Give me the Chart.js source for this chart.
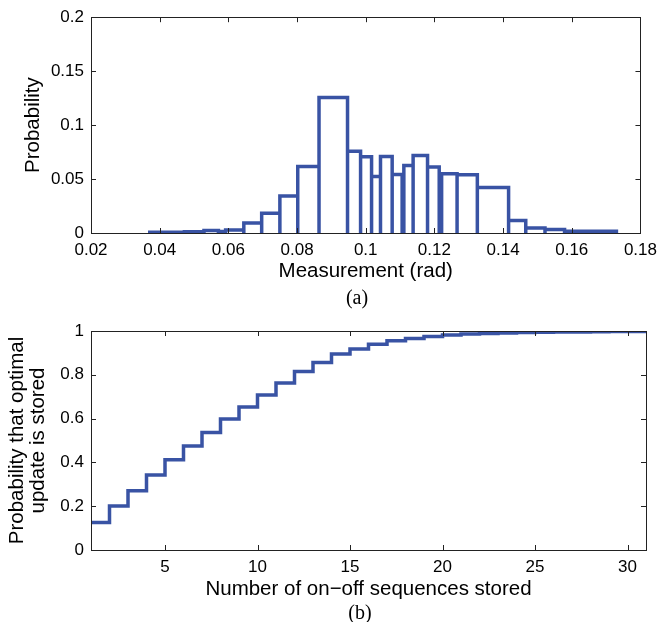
<!DOCTYPE html>
<html><head><meta charset="utf-8">
<script src="https://cdn.jsdelivr.net/npm/chart.js@4/dist/chart.umd.min.js"></script>
<style>
html,body{margin:0;padding:0;background:#fff;}
body{width:664px;height:622px;position:relative;overflow:hidden;}
#c1{position:absolute;left:0;top:0;}
#c2{position:absolute;left:0;top:300px;}
.cap{position:absolute;font-family:'Liberation Serif','Times New Roman',serif;font-size:20px;width:60px;text-align:center;line-height:22px;color:#000;}
</style></head><body>
<canvas id="c1" width="664" height="290"></canvas>
<canvas id="c2" width="664" height="310"></canvas>
<div class="cap" style="left:327px;top:286px">(a)</div>
<div class="cap" style="left:330px;top:601px">(b)</div>
<script>
// ---- Data: (a) histogram of measurements ----
const binEdges = [0.0371, 0.0472, 0.0529, 0.0571, 0.0592, 0.0645, 0.0697, 0.0750, 0.0802, 0.0864,
  0.0947, 0.0985, 0.1017, 0.1043, 0.1077, 0.1106, 0.1111, 0.1138, 0.1180, 0.1214,
  0.1221, 0.1266, 0.1325, 0.1416, 0.1466, 0.1522, 0.1579, 0.1730];
const binProb = [0.0006, 0.0012, 0.0024, 0.0015, 0.0027, 0.0092, 0.0183, 0.0342, 0.0617, 0.1256,
  0.0757, 0.0706, 0.0524, 0.0709, 0.0543, 0.0277, 0.0625, 0.0718, 0.0611, 0.0550,
  0.0550, 0.0541, 0.0422, 0.0117, 0.0047, 0.0032, 0.0016];
const topXTicks = [0.02, 0.04, 0.06, 0.08, 0.1, 0.12, 0.14, 0.16, 0.18];
const topYTicks = [0, 0.05, 0.1, 0.15, 0.2];

// ---- Data: (b) probability that optimal update is stored ----
const seqStored = [1,2,3,4,5,6,7,8,9,10,11,12,13,14,15,16,17,18,19,20,21,22,23,24,25,26,27,28,29,30,31];
const probStored = [0.126, 0.201, 0.271, 0.343, 0.412, 0.475, 0.537, 0.598, 0.653, 0.708,
  0.762, 0.815, 0.856, 0.895, 0.918, 0.939, 0.955, 0.966, 0.975, 0.982,
  0.986, 0.989, 0.991, 0.993, 0.994, 0.995, 0.996, 0.997, 0.998, 0.998, 0.999];
const botXTicks = [5, 10, 15, 20, 25, 30];
const botYTicks = [0, 0.2, 0.4, 0.6, 0.8, 1];

const BLUE = 'rgb(57,83,164)';
const FONT = "'Liberation Sans', Arial, Helvetica, sans-serif";
const fmt = v => String(+(+v).toFixed(4));

const boxPlugin = {
  id: 'box',
  afterDatasetsDraw(chart) {
    const {ctx, chartArea: a, scales} = chart;
    const L = 5;
    ctx.save();
    ctx.strokeStyle = '#222';
    ctx.lineWidth = 1;
    ctx.beginPath();
    scales.x.ticks.forEach(t => {
      const px = Math.round(scales.x.getPixelForValue(t.value)) + 0.5;
      ctx.moveTo(px, a.bottom); ctx.lineTo(px, a.bottom - L);
      ctx.moveTo(px, a.top); ctx.lineTo(px, a.top + L);
    });
    scales.y.ticks.forEach(t => {
      const py = Math.round(scales.y.getPixelForValue(t.value)) + 0.5;
      ctx.moveTo(a.left, py); ctx.lineTo(a.left + L, py);
      ctx.moveTo(a.right, py); ctx.lineTo(a.right - L, py);
    });
    ctx.stroke();
    ctx.strokeRect(Math.round(a.left) + 0.5, Math.round(a.top) + 0.5,
      Math.round(a.right - a.left), Math.round(a.bottom - a.top));
    ctx.restore();
  }
};

function makeScales(xMin, xMax, xTicks, yMin, yMax, yTicks, xTitle, yTitle, xH, xTitlePad, yTitleCfg) {
  return {
    x: {
      type: 'linear', min: xMin, max: xMax,
      afterBuildTicks: ax => { ax.ticks = xTicks.map(v => ({value: v})); },
      afterFit: ax => { ax.height = xH; },
      grid: {display: false, drawTicks: false},
      border: {display: false},
      ticks: {color: '#000', font: {family: FONT, size: 17}, padding: 7, maxRotation: 0, autoSkip: false, callback: fmt},
      title: {display: true, text: xTitle, color: '#000', font: {family: FONT, size: 20.5, lineHeight: 1.2}, padding: {top: 0, bottom: xTitlePad}}
    },
    y: {
      type: 'linear', min: yMin, max: yMax,
      afterBuildTicks: ax => { ax.ticks = yTicks.map(v => ({value: v})); },
      afterFit: ax => { ax.width = 91; },
      grid: {display: false, drawTicks: false},
      border: {display: false},
      ticks: {color: '#000', font: {family: FONT, size: 17}, padding: 7, autoSkip: false, callback: fmt},
      title: Object.assign({display: true, text: yTitle, color: '#000'}, yTitleCfg)
    }
  };
}

// Build histogram outline from bin edges/heights
const histPts = [];
binProb.forEach((h, i) => {
  const l = binEdges[i], r = binEdges[i + 1];
  histPts.push({x: l, y: 0}, {x: l, y: h}, {x: r, y: h}, {x: r, y: 0}, {x: r, y: null});
});

new Chart(document.getElementById('c1'), {
  type: 'line',
  data: {datasets: [{
    data: histPts, borderColor: BLUE, borderWidth: 3.5, pointRadius: 0, fill: false,
    tension: 0, spanGaps: false, borderJoinStyle: 'miter', borderCapStyle: 'butt'
  }]},
  options: {
    responsive: false, animation: false, devicePixelRatio: 1,
    layout: {padding: {top: 15, right: 18, bottom: 0, left: 0}},
    plugins: {legend: {display: false}, tooltip: {enabled: false}},
    scales: makeScales(0.02, 0.18, topXTicks, 0, 0.2, topYTicks, 'Measurement (rad)', 'Probability', 57, 6,
      {font: {family: FONT, size: 20.5, lineHeight: 1.2}, padding: {top: 21, bottom: 0}})
  },
  plugins: [boxPlugin]
});

new Chart(document.getElementById('c2'), {
  type: 'line',
  data: {datasets: [{
    data: seqStored.map((n, i) => ({x: n, y: probStored[i]})),
    borderColor: BLUE, borderWidth: 3.5, pointRadius: 0, fill: false,
    stepped: 'before', borderJoinStyle: 'miter', borderCapStyle: 'butt'
  }]},
  options: {
    responsive: false, animation: false, devicePixelRatio: 1,
    layout: {padding: {top: 31, right: 18, bottom: 0, left: 0}},
    plugins: {legend: {display: false}, tooltip: {enabled: false}},
    scales: makeScales(1, 31, botXTicks, 0, 1, botYTicks, 'Number of on\u2212off sequences stored',
      ['Probability that optimal', 'update is stored'], 60, 8,
      {font: {family: FONT, size: 20.5, lineHeight: 1.03}, padding: {top: 7, bottom: 0}})
  },
  plugins: [boxPlugin]
});
</script>
</body></html>
